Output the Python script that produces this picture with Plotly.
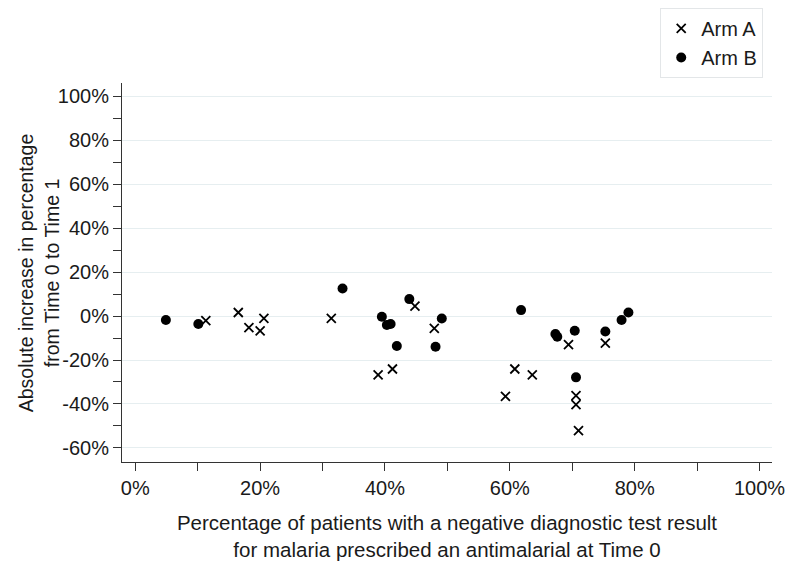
import plotly.graph_objects as go

# Arm A (crosses): x = % prescribed at Time 0, y = change Time 0 -> Time 1
arm_a_x = [11.3, 16.5, 18.2, 20.0, 20.6, 31.4, 38.9, 41.2, 44.8, 47.9,
           59.3, 60.8, 63.6, 69.4, 70.6, 70.6, 71.0, 75.3]
arm_a_y = [-2.1, 1.6, -5.3, -6.8, -1.1, -1.1, -26.8, -24.1, 4.5, -5.6,
           -36.5, -24.1, -26.8, -13.0, -36.2, -40.3, -52.1, -12.3]

# Arm B (dots)
arm_b_x = [4.9, 10.1, 33.2, 39.5, 40.3, 40.9, 41.9, 43.9, 48.1, 49.1,
           61.8, 67.3, 67.6, 70.4, 70.6, 75.3, 77.9, 79.0]
arm_b_y = [-1.8, -3.6, 12.5, -0.3, -4.1, -3.6, -13.6, 7.7, -14.0, -1.1,
           2.7, -8.2, -9.4, -6.7, -27.9, -7.0, -1.8, 1.6]

x_ticks = [0, 20, 40, 60, 80, 100]
y_ticks = [-60, -40, -20, 0, 20, 40, 60, 80, 100]

font_family = "Arial, 'Liberation Sans', sans-serif"
ink = '#1a1a1a'
axis_col = '#333333'

fig = go.Figure()
fig.add_trace(go.Scatter(
    x=arm_a_x, y=arm_a_y, mode='markers', name='Arm A',
    marker=dict(symbol='x-thin-open', size=9, color='black',
                line=dict(width=1.8, color='black'))
))
fig.add_trace(go.Scatter(
    x=arm_b_x, y=arm_b_y, mode='markers', name='Arm B',
    marker=dict(symbol='circle', size=10, color='black')
))

# page body has an 8px margin, so the figure is drawn 8px smaller
fig.update_layout(
    width=785, height=557,
    paper_bgcolor='white', plot_bgcolor='white',
    margin=dict(l=114, r=21, t=75, b=103, autoexpand=False),
    font=dict(family=font_family, size=20, color=ink),
    legend=dict(
        x=0.828, y=1.198, xanchor='left', yanchor='top',
        bordercolor='#e3e6e8', borderwidth=1,
        font=dict(size=20), itemwidth=30, tracegroupgap=0
    ),
    annotations=[dict(
        text='Absolute increase in percentage<br>from Time 0 to Time 1',
        xref='paper', yref='paper', x=-0.128, y=0.5,
        xanchor='center', yanchor='middle', textangle=-90,
        showarrow=False, font=dict(size=19.5, color=ink)
    )],
)

fig.update_xaxes(
    range=[-2.13, 102.0], automargin=False,
    tickvals=x_ticks, ticktext=[f'{v}%' for v in x_ticks],
    ticks='outside', ticklen=8, tickcolor=axis_col, tickwidth=1,
    minor=dict(dtick=10, tick0=0, ticks='outside', ticklen=8, tickcolor=axis_col, showgrid=False),
    showline=True, linecolor=axis_col, linewidth=1,
    showgrid=False, zeroline=False,
    title=dict(text='Percentage of patients with a negative diagnostic test result<br>'
                    'for malaria prescribed an antimalarial at Time 0',
               standoff=17, font=dict(size=20.5)),
)

fig.update_yaxes(
    range=[-66.4, 106.0], automargin=False,
    tickvals=y_ticks, ticktext=[f'{v}%' for v in y_ticks],
    ticks='outside', ticklen=8, tickcolor=axis_col, tickwidth=1,
    minor=dict(dtick=10, tick0=0, ticks='outside', ticklen=8, tickcolor=axis_col, showgrid=False),
    showline=True, linecolor=axis_col, linewidth=1,
    showgrid=True, gridcolor='#e6eef0', gridwidth=1, zeroline=False,
)

fig.write_html("out.html")
